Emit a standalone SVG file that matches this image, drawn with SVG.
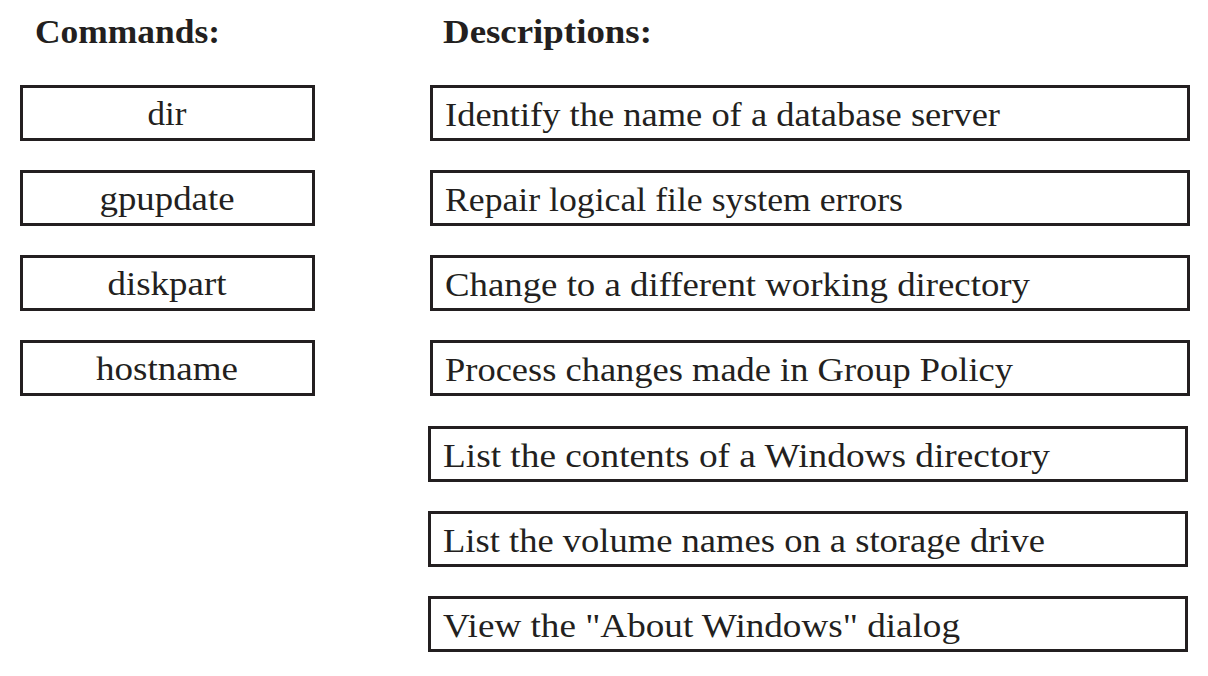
<svg xmlns="http://www.w3.org/2000/svg" width="1208" height="676" viewBox="0 0 1208 676">
<style>
.box{fill:#fff;stroke:#231f20;stroke-width:3}
.t{font-family:"Liberation Serif",serif;font-size:34px;fill:#231f20}
.c{text-anchor:middle}
.h{font-family:"Liberation Serif",serif;font-size:34px;font-weight:bold;fill:#231f20}
</style>
<rect width="1208" height="676" fill="#fff"/>
<text class="h" x="35" y="43" textLength="185" lengthAdjust="spacingAndGlyphs">Commands:</text>
<text class="h" x="443" y="43" textLength="209" lengthAdjust="spacingAndGlyphs">Descriptions:</text>
<g id="cmd-dir"><rect class="box" x="21.5" y="86.5" width="292" height="53"/><text class="t c" x="167" y="125" textLength="39" lengthAdjust="spacingAndGlyphs">dir</text></g>
<g id="cmd-gpupdate"><rect class="box" x="21.5" y="171.5" width="292" height="53"/><text class="t c" x="167" y="210" textLength="135" lengthAdjust="spacingAndGlyphs">gpupdate</text></g>
<g id="cmd-diskpart"><rect class="box" x="21.5" y="256.5" width="292" height="53"/><text class="t c" x="167" y="295" textLength="119" lengthAdjust="spacingAndGlyphs">diskpart</text></g>
<g id="cmd-hostname"><rect class="box" x="21.5" y="341.5" width="292" height="53"/><text class="t c" x="167" y="380" textLength="142" lengthAdjust="spacingAndGlyphs">hostname</text></g>
<g id="desc-1"><rect class="box" x="431.5" y="86.5" width="757" height="53"/><text class="t" x="445" y="126" textLength="555" lengthAdjust="spacingAndGlyphs">Identify the name of a database server</text></g>
<g id="desc-2"><rect class="box" x="431.5" y="171.5" width="757" height="53"/><text class="t" x="445" y="211" textLength="458" lengthAdjust="spacingAndGlyphs">Repair logical file system errors</text></g>
<g id="desc-3"><rect class="box" x="431.5" y="256.5" width="757" height="53"/><text class="t" x="445" y="296" textLength="585" lengthAdjust="spacingAndGlyphs">Change to a different working directory</text></g>
<g id="desc-4"><rect class="box" x="431.5" y="341.5" width="757" height="53"/><text class="t" x="445" y="381" textLength="568" lengthAdjust="spacingAndGlyphs">Process changes made in Group Policy</text></g>
<g id="desc-5"><rect class="box" x="429.5" y="427.5" width="757" height="53"/><text class="t" x="443" y="467" textLength="607" lengthAdjust="spacingAndGlyphs">List the contents of a Windows directory</text></g>
<g id="desc-6"><rect class="box" x="429.5" y="512.5" width="757" height="53"/><text class="t" x="443" y="552" textLength="602" lengthAdjust="spacingAndGlyphs">List the volume names on a storage drive</text></g>
<g id="desc-7"><rect class="box" x="429.5" y="597.5" width="757" height="53"/><text class="t" x="443" y="637" textLength="517" lengthAdjust="spacingAndGlyphs">View the "About Windows" dialog</text></g>
<g id="connectors"></g>
</svg>
